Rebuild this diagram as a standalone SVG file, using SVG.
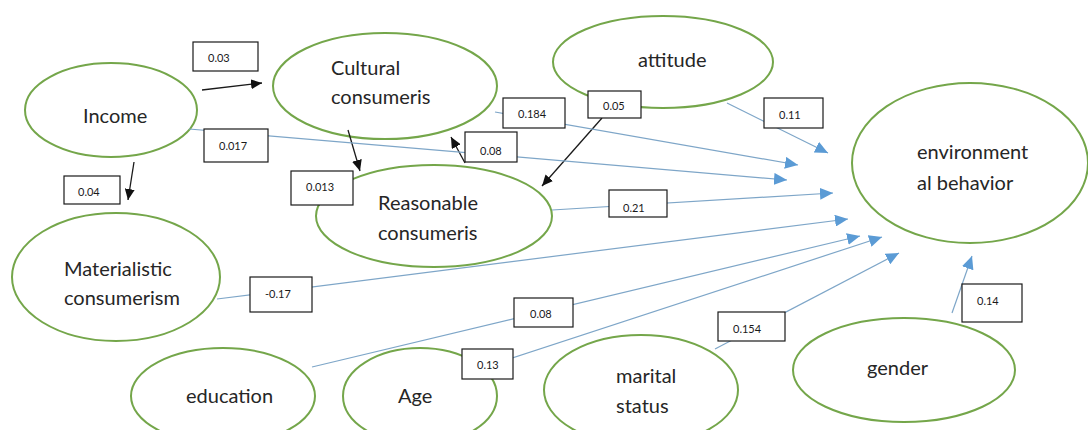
<svg xmlns="http://www.w3.org/2000/svg" width="1088" height="430" viewBox="0 0 1088 430">
<style>
.node{fill:#fff;stroke:#74a64a;stroke-width:2}
.t{font-family:Lato,"Liberation Sans",sans-serif;font-size:20px;fill:#262626}
.blue{stroke:#7ea6c8;stroke-width:1.2;fill:none}
.black{stroke:#1a1a1a;stroke-width:1.3;fill:none}
.box{fill:#fff;stroke:#1a1a1a;stroke-width:1.2}
.lt{font-family:Lato,"Liberation Sans",sans-serif;font-size:11px;fill:#1a1a1a}
</style>
<defs>
<marker id="ab" markerUnits="userSpaceOnUse" markerWidth="14" markerHeight="12" refX="13" refY="6" orient="auto"><path d="M0,0 L13,6 L0,12 z" fill="#5b9bd5"/></marker>
<marker id="ak" markerUnits="userSpaceOnUse" markerWidth="12" markerHeight="10" refX="11" refY="5" orient="auto"><path d="M0,0 L11,5 L0,10 z" fill="#111"/></marker>
</defs>
<rect width="1088" height="430" fill="#fff"/>
<g id="node-income"><ellipse class="node" cx="111" cy="110" rx="86" ry="47"/><text class="t" x="83" y="123">Income</text></g>
<g id="node-cultural"><ellipse class="node" cx="385" cy="86" rx="112" ry="53"/><text class="t" x="331" y="75">Cultural</text><text class="t" x="331" y="104">consumeris</text></g>
<g id="node-attitude"><ellipse class="node" cx="663" cy="62" rx="110" ry="46"/><text class="t" x="638" y="67">attitude</text></g>
<g id="node-env"><ellipse class="node" cx="970" cy="163" rx="118" ry="80"/><text class="t" x="917" y="159">environment</text><text class="t" x="917" y="190">al behavior</text></g>
<g id="node-reasonable"><ellipse class="node" cx="434" cy="216" rx="118" ry="51"/><text class="t" x="378" y="210">Reasonable</text><text class="t" x="378" y="240">consumeris</text></g>
<g id="node-materialistic"><ellipse class="node" cx="116" cy="277" rx="104" ry="64"/><text class="t" x="64" y="276">Materialistic</text><text class="t" x="64" y="305">consumerism</text></g>
<g id="node-education"><ellipse class="node" cx="223" cy="396" rx="92" ry="48"/><text class="t" x="186" y="403">education</text></g>
<g id="node-age"><ellipse class="node" cx="420" cy="396" rx="77" ry="48"/><text class="t" x="398" y="403">Age</text></g>
<g id="node-marital"><ellipse class="node" cx="641" cy="390" rx="97" ry="55"/><text class="t" x="616" y="383">marital</text><text class="t" x="616" y="413">status</text></g>
<g id="node-gender"><ellipse class="node" cx="904" cy="370" rx="111" ry="52"/><text class="t" x="867" y="375">gender</text></g>
<g id="connectors">
<line class="black" x1="202" y1="90" x2="262" y2="83" marker-end="url(#ak)"/>
<line class="black" x1="348" y1="130" x2="360" y2="171" marker-end="url(#ak)"/>
<line class="black" x1="134" y1="162" x2="128" y2="200" marker-end="url(#ak)"/>
<line class="black" x1="465" y1="163" x2="451" y2="137" marker-end="url(#ak)"/>
<line class="black" x1="602" y1="118" x2="542" y2="186" marker-end="url(#ak)"/>
<line class="blue" x1="727" y1="103" x2="828" y2="153" marker-end="url(#ab)"/>
<line class="blue" x1="495" y1="112" x2="798" y2="165" marker-end="url(#ab)"/>
<line class="blue" x1="189" y1="129" x2="787" y2="180" marker-end="url(#ab)"/>
<line class="blue" x1="552" y1="210" x2="833" y2="193" marker-end="url(#ab)"/>
<line class="blue" x1="217" y1="299" x2="848" y2="219" marker-end="url(#ab)"/>
<line class="blue" x1="312" y1="367" x2="860" y2="236" marker-end="url(#ab)"/>
<line class="blue" x1="500" y1="362" x2="882" y2="237" marker-end="url(#ab)"/>
<line class="blue" x1="715" y1="349" x2="899" y2="253" marker-end="url(#ab)"/>
<line class="blue" x1="952" y1="313" x2="972" y2="256" marker-end="url(#ab)"/>
</g>
<g id="labels">
<rect class="box" x="193" y="42" width="65" height="29"/><text class="lt" x="208" y="62">0.03</text>
<rect class="box" x="204" y="129" width="64" height="33"/><text class="lt" x="219" y="150">0.017</text>
<rect class="box" x="64" y="176" width="56" height="28"/><text class="lt" x="78" y="196">0.04</text>
<rect class="box" x="291" y="171" width="62" height="34"/><text class="lt" x="306" y="191">0.013</text>
<rect class="box" x="503" y="98" width="62" height="30"/><text class="lt" x="518" y="118">0.184</text>
<rect class="box" x="588" y="91" width="53" height="27"/><text class="lt" x="603" y="110">0.05</text>
<rect class="box" x="465" y="132" width="52" height="30"/><text class="lt" x="480" y="155">0.08</text>
<rect class="box" x="609" y="190" width="58" height="27"/><text class="lt" x="623" y="212">0.21</text>
<rect class="box" x="764" y="98" width="59" height="30"/><text class="lt" x="779" y="119">0.11</text>
<rect class="box" x="250" y="277" width="62" height="35"/><text class="lt" x="265" y="298">-0.17</text>
<rect class="box" x="514" y="298" width="59" height="29"/><text class="lt" x="530" y="318">0.08</text>
<rect class="box" x="462" y="349" width="51" height="30"/><text class="lt" x="477" y="369">0.13</text>
<rect class="box" x="718" y="312" width="67" height="29"/><text class="lt" x="733" y="333">0.154</text>
<rect class="box" x="962" y="284" width="60" height="38"/><text class="lt" x="977" y="305">0.14</text>
</g>
</svg>
